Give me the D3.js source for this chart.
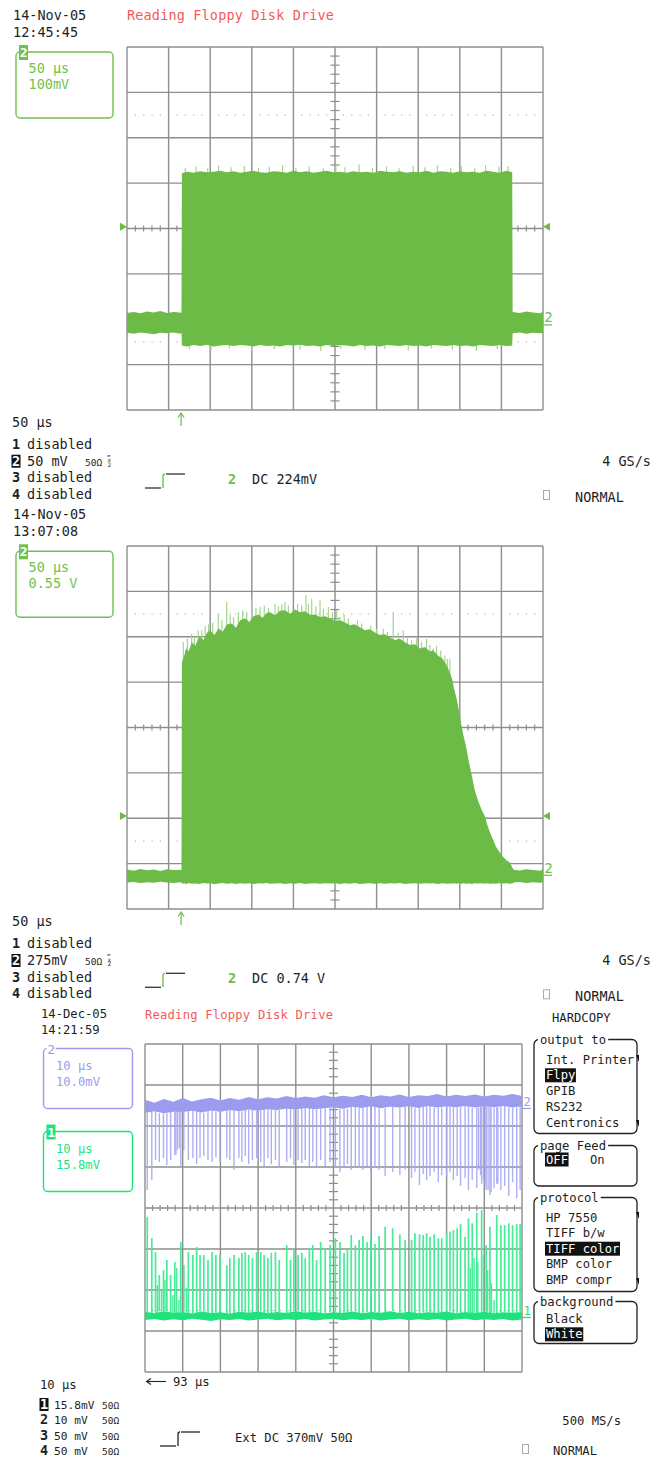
<!DOCTYPE html>
<html><head><meta charset="utf-8">
<script src="https://cdn.jsdelivr.net/npm/d3@7"></script>
<style>
html,body{margin:0;padding:0;background:#fff;}
svg{display:block;}
text{font-family:"DejaVu Sans Mono","Liberation Mono",monospace;font-size:13.5px;fill:#1e1e1e;}
</style></head><body>
<svg id="c" width="652" height="1458"></svg>
<script>
// ---------------- DATA ----------------
// Panel 1: 50 us/div, 100 mV/div (zoom). [time us, upper mV, lower mV]
const p1Trace = [[0,-186,-230],[8,-184,-232],[16,-187,-229],[24,-183,-231],[32,-185,-233],[40,-182,-230],[48,-186,-231],[56,-184,-229],[64,-185,-232],[65.5,-186,-230],
[66,122,-258],[72,125,-260],[80,123,-257],[88,126,-259],[96,124,-256],[104,125,-260],[112,127,-258],[120,124,-257],[128,126,-259],[136,123,-257],[144,125,-258],[152,127,-260],[160,124,-257],[168,123,-259],[176,126,-258],[184,125,-260],[192,123,-257],[200,127,-258],[208,124,-256],[216,126,-259],[224,123,-258],[232,125,-260],[240,127,-257],[248,124,-259],[256,125,-257],[264,123,-258],[272,126,-260],[280,124,-257],[288,125,-259],[296,123,-258],[304,127,-260],[312,125,-257],[320,124,-258],[328,126,-259],[336,123,-257],[344,125,-259],[352,124,-258],[360,127,-260],[368,123,-257],[376,126,-258],[384,125,-259],[392,123,-257],[400,126,-259],[408,124,-258],[416,125,-260],[424,123,-257],[432,127,-258],[440,125,-259],[448,123,-257],[456,127,-259],[463,124,-258],
[463.5,-184,-231],[472,-186,-229],[480,-183,-232],[488,-185,-230],[496,-187,-231],[500,-184,-230]];
const p1Spikes = [[70,134],[83,137],[97,133],[110,139],[125,135],[141,138],[158,133],[171,136],[187,140],[203,134],[219,137],[236,133],[251,139],[262,135],[279,141],[295,134],[312,137],[327,133],[344,138],[358,135],[373,139],[389,134],[402,137],[418,133],[431,140],[447,136],[458,138]];
const p1Dips = [[75,-266],[101,-268],[123,-265],[150,-269],[177,-266],[208,-267],[233,-270],[257,-265],[286,-268],[310,-266],[338,-269],[366,-265],[391,-267],[420,-270],[445,-266]];
const p1Trig = {level: 4, time: 65};
const p1Ground = -196;

// Panel 2: 50 us/div, 550 mV/div
const p2Trace = [[0,-1720,-1880],[8,-1735,-1872],[16,-1715,-1885],[24,-1730,-1876],[32,-1722,-1882],[40,-1740,-1870],[48,-1718,-1879],[56,-1728,-1884],[64,-1724,-1875],[65.5,-1730,-1880],
[66,789,-1895],[69,880,-1888],[71,960,-1900],[74,920,-1886],[78,1032,-1893],[82,990,-1890],[87,1104,-1897],[92,1060,-1886],[96,1150,-1892],[100,1177,-1888],[105,1120,-1899],[110,1201,-1890],[115,1160,-1885],[120,1250,-1894],[126,1262,-1889],[131,1210,-1896],[136,1300,-1887],[142,1323,-1893],[147,1280,-1889],[152,1350,-1898],[158,1371,-1888],[163,1330,-1892],[168,1390,-1886],[172,1396,-1895],[178,1360,-1890],[184,1415,-1887],[190,1420,-1896],[196,1380,-1889],[202,1430,-1893],[208,1396,-1886],[214,1410,-1897],[220,1365,-1890],[226,1371,-1888],[232,1340,-1895],[238,1350,-1887],[244,1323,-1892],[250,1290,-1889],[256,1300,-1896],[262,1274,-1888],[268,1240,-1893],[274,1250,-1886],[280,1214,-1898],[286,1180,-1890],[292,1190,-1887],[298,1153,-1894],[304,1120,-1889],[310,1130,-1895],[316,1092,-1888],[322,1060,-1892],[328,1075,-1886],[334,1032,-1897],[340,1000,-1890],[346,1010,-1888],[352,959,-1894],[358,975,-1887],[364,920,-1892],[368,935,-1889],[374,870,-1896],[379,837,-1888],[384,760,-1893],[388,667,-1890],[391,580,-1895],[393,473,-1887],[396,360,-1893],[398,255,-1889],[401.4,61,-1895],[404,-80,-1888],[407.5,-231,-1893],[411,-420,-1890],[414.7,-595,-1896],[418,-760,-1887],[421.9,-886,-1892],[426,-990,-1889],[430.3,-1080,-1894],[433,-1180,-1888],[436.3,-1274,-1893],[440,-1360,-1890],[443.5,-1444,-1895],[447,-1500,-1887],[451.9,-1566,-1892],[456,-1610,-1889],[460.3,-1638,-1894],[463.9,-1711,-1888],
[465,-1725,-1878],[472,-1732,-1872],[480,-1718,-1884],[488,-1728,-1876],[496,-1735,-1881],[500,-1722,-1877]];
// light spikes above the envelope: [time us, peak mV]
const p2Spikes = [[67.7,1035],[72.5,1080],[77.7,1137],[81,1100],[85.7,1177],[90,1180],[94,1230],[98,1250],[103,1270],[109.7,1380],[114,1300],[119.8,1521],[124,1380],[128,1340],[133.8,1399],[139,1420],[144,1400],[149.9,1562],[155,1450],[159.9,1460],[165,1480],[170,1450],[177.9,1501],[182,1470],[186,1490],[189.9,1521],[194,1480],[199.9,1420],[205,1500],[210,1480],[215.1,1602],[218,1500],[222,1562],[227,1470],[232,1541],[236,1440],[242,1460],[247,1400],[252,1420],[256,1338],[261,1370],[266,1320],[272,1258],[277,1300],[282,1260],[288,1177],[293,1240],[300,1200],[308,1197],[313,1160],[320,1399],[326,1150],[332,1177],[337,1100],[342,1056],[348,1080],[354,1040],[360,1076],[364,1000],[368,955],[372,990],[377,930],[382,874],[385,830],[388,834]];
const p2Trig = {level: -1072, time: 65};
const p2Ground = -1700;

// Panel 3: 10 us/div; ch2 10 mV/div, ch1 15.8 mV/div. Pulse times (us)
const p3PulseT = [0.6,1.8,2.8,3.8,4.9,5.8,6.8,7.9,9.5,10.3,11.5,12.7,13.7,14.6,15.6,16.7,17.8,18.8,19.9,21.7,22.5,23.6,24.9,25.7,26.6,27.5,28.5,29.6,30.7,31.6,32.6,33.5,34.6,35.6,37.6,38.6,39.5,40.6,41.6,42.5,43.6,44.5,45.5,46.6,47.8,49.1,50.5,51.7,52.8,53.7,54.7,55.8,56.8,57.8,58.9,59.9,61.0,62.1,63.7,65.7,67.6,69.0,70.7,71.6,72.8,73.8,74.7,75.6,76.7,77.8,78.7,80.0,80.9,81.8,82.8,83.7,84.9,85.8,86.8,88.0,89.3,90.5,91.5,93.3,94.4,95.4,96.5,97.5,98.6,99.5];
const p3Ch1Peak = [-3.4,-11.6,-17.0,-25.8,-23.9,-20.0,-25.8,-20.8,-13.1,-22.0,-17.0,-18.1,-15.0,-18.1,-18.1,-20.0,-17.0,-18.1,-18.1,-22.0,-19.3,-18.1,-19.3,-17.3,-17.0,-18.1,-19.3,-17.0,-17.0,-18.1,-19.3,-17.3,-17.0,-20.0,-14.3,-20.0,-16.2,-18.1,-17.3,-19.3,-15.4,-14.3,-20.0,-13.1,-15.4,-14.3,-11.6,-13.1,-17.3,-16.2,-10.4,-14.3,-12.3,-10.8,-13.1,-11.6,-13.9,-10.8,-7.2,-7.8,-10.1,-12.3,-12.3,-9.7,-10.1,-10.4,-9.7,-11.1,-10.1,-11.7,-11.7,-9.7,-9.1,-8.5,-7.8,-6.2,-11.1,-4.0,-5.9,-1.8,-0.8,-14.3,-7.2,-2.7,-6.6,-6.6,-5.9,-6.6,-6.2,-6.2];
const p3Ch2Trough = [4.4,6.8,11.7,11.2,12.2,10.5,11.7,12.9,10.2,14.1,11.7,12.2,10.7,12.2,12.7,11.7,11.2,12.4,11.2,12.2,11.7,9.3,12.2,11.2,12.7,10.7,11.7,12.2,11.2,10.2,12.2,10.7,11.7,10.2,11.2,12.2,10.5,11.7,11.0,11.7,10.2,11.2,9.8,11.7,10.2,11.2,9.8,8.8,10.2,10.7,9.3,9.8,10.2,9.3,10.2,8.8,9.8,9.3,7.8,8.8,8.0,9.3,7.3,8.8,5.6,8.3,6.8,7.8,8.8,6.3,8.0,7.3,8.8,6.8,7.8,5.4,7.3,4.4,6.8,4.9,5.9,4.4,3.2,5.9,4.4,5.4,2.9,6.3,2.4,4.4];
const p3Ch1Minor = [[3.3,-29.7],[4.4,-31.6],[5.3,-27.7],[7.4,-33.5],[8.4,-23.1],[9.0,-35.5],[11.0,-30.8],[86.3,-23.1],[87.3,-19.3],[88.3,-20.8],[89.8,-18.1],[90.9,-23.9],[91.9,-28.9],[92.6,-35.5]];
const p3Ch2Minor = [[8.2,12.9],[8.6,14.1],[9.1,14.6],[88.5,9.3],[89.0,8.0],[89.8,6.8],[90.2,5.4],[91.0,4.4],[91.8,3.9],[92.6,4.9],[93.6,5.9]];
const p3Ch2Band = [[0,26.4,23.2],[2.5,25.7,23.6],[5,26.6,23.1],[7.5,25.9,23.5],[10,26.8,23.4],[12.5,26.0,23.7],[15,26.5,23.3],[17.5,26.9,23.8],[20,26.2,23.5],[22.5,26.8,23.9],[25,26.4,23.6],[27.5,27.1,24.0],[30,26.5,23.7],[32.5,27.0,24.1],[35,26.7,23.9],[37.5,27.3,24.2],[40,26.8,24.0],[42.5,27.2,24.4],[45,26.9,24.1],[47.5,27.5,24.3],[50,27.0,24.6],[52.5,27.4,24.2],[55,27.1,24.7],[57.5,27.6,24.4],[60,27.0,24.8],[62.5,27.5,24.3],[65,27.2,24.7],[67.5,27.7,24.5],[70,27.1,24.8],[72.5,27.5,24.4],[75,27.3,24.9],[77.5,27.8,24.5],[80,27.2,24.8],[82.5,27.6,24.6],[85,27.3,24.9],[87.5,27.7,24.5],[90,27.2,24.8],[92.5,27.6,24.6],[95,27.4,24.9],[97.5,27.8,24.5],[100,27.3,24.8]];
const p3Ch1Band = [[0,-40.0,-43.2],[2.5,-40.6,-42.8],[5,-39.8,-43.4],[7.5,-40.4,-42.9],[10,-40.1,-43.3],[12.5,-40.7,-42.7],[15,-39.9,-43.1],[17.5,-40.5,-43.5],[20,-40.2,-42.9],[22.5,-40.8,-43.2],[25,-40.0,-42.8],[27.5,-40.4,-43.4],[30,-39.9,-43.0],[32.5,-40.6,-42.7],[35,-40.1,-43.3],[37.5,-40.5,-42.9],[40,-39.8,-43.2],[42.5,-40.4,-42.8],[45,-40.0,-43.4],[47.5,-40.7,-43.0],[50,-40.2,-42.7],[52.5,-40.5,-43.3],[55,-39.9,-42.9],[57.5,-40.6,-43.2],[60,-40.1,-42.8],[62.5,-40.4,-43.4],[65,-39.8,-43.0],[67.5,-40.5,-42.7],[70,-40.0,-43.3],[72.5,-40.6,-42.9],[75,-40.2,-43.2],[77.5,-40.4,-42.8],[80,-39.9,-43.4],[82.5,-40.7,-43.0],[85,-40.1,-42.7],[87.5,-40.5,-43.3],[90,-40.0,-42.9],[92.5,-40.6,-43.2],[95,-40.2,-42.8],[97.5,-40.4,-43.4],[100,-40.1,-43.0]];
const p3Ch2Ground = 26.1, p3Ch1Ground = -39.3;

// Texts
const p1Head = ["14-Nov-05","12:45:45"];
const p2Head = ["14-Nov-05","13:07:08"];
const p3Head = ["14-Dec-05","14:21:59"];
const titleText = "Reading Floppy Disk Drive";
const p1Box = ["50 µs","100mV"];
const p2Box = ["50 µs","0.55 V"];
const p3Box2 = ["10 µs","10.0mV"];
const p3Box1 = ["10 µs","15.8mV"];
const p1Chan = [["1","disabled"],["2","50 mV"],["3","disabled"],["4","disabled"]];
const p2Chan = [["1","disabled"],["2","275mV"],["3","disabled"],["4","disabled"]];
const p3Chan = [["1","15.8mV"],["2","10 mV"],["3","50 mV"],["4","50 mV"]];
const p1Trigger = "DC 224mV", p2Trigger = "DC 0.74 V", p3Trigger = "Ext  DC 370mV 50Ω";
const rates = ["4 GS/s","4 GS/s","500 MS/s"];
const menuOutput = ["Int. Printer","Flpy","GPIB","RS232","Centronics"];
const menuProtocol = ["HP 7550","TIFF b/w","TIFF color","BMP color","BMP compr"];
const menuBackground = ["Black","White"];

// ---------------- DRAW ----------------
const svg = d3.select("#c");
const G1 = "#6cbb47", G1L = "#a3d68c", GTXT = "#72c04f";
const PUR = "#9c9cef", PURL = "rgba(165,165,244,0.9)";
const MINT = "#1fe27d", MINTL = "#46ec97";
const GRID = "#8e8e8e";
const S3 = 12.2; // panel 3 font size

function T(x, y, s, o = {}) {
  const t = svg.append("text").attr("x", x).attr("y", y).text(s);
  if (o.fill) t.style("fill", o.fill);
  if (o.size) t.style("font-size", o.size + "px");
  if (o.anchor) t.attr("text-anchor", o.anchor);
  if (o.weight) t.style("font-weight", o.weight);
  if (o.len) t.attr("textLength", o.len).attr("lengthAdjust", "spacing");
  return t;
}

function grid(x, y, nx, ny) {
  const g = svg.append("g");
  const [x0, x1] = x.range(), [y0, y1] = y.range(); // y0 bottom
  const dx = (x1 - x0) / nx, dy = (y0 - y1) / ny;
  const cx = x0 + dx * nx / 2, cy = y1 + dy * ny / 2;
  [cy - 2.5 * dy, cy + 2.5 * dy].forEach(yy => {
    for (let i = 0; i < nx * 5; i++) {
      if (i % 5 === 0) continue;
      g.append("rect").attr("x", x0 + i * dx / 5 - 0.5).attr("y", yy - 0.5).attr("width", 1.2).attr("height", 1.2).attr("fill", "#b4b4b4");
    }
  });
  for (let i = 0; i <= nx; i++) g.append("line").attr("x1", x0 + i * dx).attr("x2", x0 + i * dx).attr("y1", y1).attr("y2", y0).attr("stroke", GRID).attr("stroke-width", 1.4);
  for (let j = 0; j <= ny; j++) g.append("line").attr("x1", x0).attr("x2", x1).attr("y1", y1 + j * dy).attr("y2", y1 + j * dy).attr("stroke", GRID).attr("stroke-width", 1.4);
  for (let i = 1; i < nx * 5; i++) {
    if (i % 5 === 0) continue;
    g.append("line").attr("x1", x0 + i * dx / 5).attr("x2", x0 + i * dx / 5).attr("y1", cy - 3).attr("y2", cy + 3).attr("stroke", GRID).attr("stroke-width", 1.2);
  }
  for (let j = 1; j < ny * 5; j++) {
    if (j % 5 === 0) continue;
    g.append("line").attr("x1", cx - 4.5).attr("x2", cx + 4.5).attr("y1", y1 + j * dy / 5).attr("y2", y1 + j * dy / 5).attr("stroke", GRID).attr("stroke-width", 1.2);
  }
}

function trigArrows(x, y, level, time, col) {
  const yy = y(level), [x0, x1] = x.range(), [yb] = y.range();
  svg.append("path").attr("d", `M${x0 - 7},${yy - 4}L${x0},${yy}L${x0 - 7},${yy + 4}Z`).attr("fill", col);
  svg.append("path").attr("d", `M${x1 + 7},${yy - 4}L${x1},${yy}L${x1 + 7},${yy + 4}Z`).attr("fill", col);
  const tx = x(time);
  svg.append("line").attr("x1", tx).attr("x2", tx).attr("y1", yb + 4).attr("y2", yb + 16).attr("stroke", col).attr("stroke-width", 1.2);
  svg.append("path").attr("d", `M${tx - 3},${yb + 7.5}L${tx},${yb + 3}L${tx + 3},${yb + 7.5}`).attr("fill", "none").attr("stroke", col).attr("stroke-width", 1.2);
}

function groundMark(x, y, v, label, col, size) {
  const x1 = x.range()[1], yy = y(v);
  T(x1 + 1.5, yy + 5, label, {fill: col, size: size || 13.5});
  svg.append("line").attr("x1", x1).attr("x2", x1 + 9).attr("y1", yy + 7.5).attr("y2", yy + 7.5).attr("stroke", col).attr("stroke-width", 1.2);
}

function chanBox(x, y, w, h, badge, col, lines, filledBadge, size) {
  svg.append("rect").attr("x", x).attr("y", y).attr("width", w).attr("height", h).attr("rx", 4).attr("fill", "none").attr("stroke", col).attr("stroke-width", 1.4);
  if (filledBadge) {
    svg.append("rect").attr("x", x + 3).attr("y", y - 7).attr("width", 9).attr("height", 15).attr("fill", col);
    T(x + 3.8, y + 5, badge, {fill: "#fff", size: 13, weight: "bold"});
  } else {
    svg.append("rect").attr("x", x + 3).attr("y", y - 3).attr("width", 9).attr("height", 6).attr("fill", "#fff");
    T(x + 3.8, y + 5, badge, {fill: col, size: 13});
  }
  lines.forEach((s, i) => T(x + 12.5, y + 21 + i * 16, s, {fill: col, size: size}));
}

function chanList(x, y0, rows, inv, step, ohm, ohmX, bwl, size, gap) {
  rows.forEach((r, i) => {
    const yy = y0 + i * step;
    if (r[0] === inv) {
      svg.append("rect").attr("x", x - 0.5).attr("y", yy - 11).attr("width", 9).attr("height", 13).attr("fill", "#111");
      T(x, yy, r[0], {fill: "#fff", weight: "bold", size: 13.5});
    } else T(x, yy, r[0], {weight: "bold", size: 13.5});
    T(x + gap, yy, r[1], {size: size});
    if (ohm && (ohm === "all" || r[0] === inv)) T(ohmX, yy, "50Ω", {size: 9.5});
    if (bwl && r[0] === inv) {
      T(ohmX + 22, yy - 8, "≈", {size: 6}); T(ohmX + 22.5, yy - 3.5, "x", {size: 6}); T(ohmX + 22.5, yy + 1, "2", {size: 6});
    }
  });
}

function trigSym(x, y, col, dark) {
  svg.append("path").attr("d", `M${x},${y}H${x + 16}`).attr("stroke", dark).attr("stroke-width", 1.3).attr("fill", "none");
  svg.append("path").attr("d", `M${x + 18},${y}V${y - 12}Q${x + 18},${y - 14} ${x + 20},${y - 14}`).attr("stroke", col).attr("stroke-width", 1.3).attr("fill", "none");
  svg.append("path").attr("d", `M${x + 21},${y - 14}H${x + 40}`).attr("stroke", dark).attr("stroke-width", 1.3).attr("fill", "none");
}

function footer(dy, rate, trig, trigCh) {
  T(12, 427 + dy, "50 µs");
  trigSym(145, 488 + dy, G1, "#333");
  T(228, 484 + dy, trigCh, {fill: G1, weight: "bold"});
  T(252, 484 + dy, trig);
  T(651, 466 + dy, rate, {anchor: "end"});
  svg.append("rect").attr("x", 543.5).attr("y", 490.5 + dy).attr("width", 6).attr("height", 9).attr("fill", "none").attr("stroke", "#aaa").attr("stroke-width", 1);
  T(575, 502 + dy, "NORMAL");
}

function vlines(data, x, y, yFrom, yTo, col, w) {
  svg.append("g").selectAll("line").data(data).join("line")
    .attr("x1", d => x(d[0])).attr("x2", d => x(d[0]))
    .attr("y1", d => y(yFrom(d))).attr("y2", d => y(yTo(d)))
    .attr("stroke", col).attr("stroke-width", w);
}

// ---- Panel 1
const x1s = d3.scaleLinear([0, 500], [127, 543]);
const y1s = d3.scaleLinear([-400, 400], [410, 47]);
T(13, 20, p1Head[0]); T(13, 37, p1Head[1]);
T(127, 20, titleText, {fill: "#f45a5a", len: 207});
chanBox(16, 52, 97, 66, "2", GTXT, p1Box, true);
grid(x1s, y1s, 10, 8);
vlines(p1Spikes, x1s, y1s, d => 0, d => d[1], G1L, 1.2);
vlines(p1Dips, x1s, y1s, d => 0, d => d[1], G1L, 1.2);
svg.append("path").datum(p1Trace).attr("fill", G1)
  .attr("d", d3.area().x(d => x1s(d[0])).y0(d => y1s(d[2])).y1(d => y1s(d[1])));
trigArrows(x1s, y1s, p1Trig.level, p1Trig.time, G1);
groundMark(x1s, y1s, p1Ground, "2", G1);
footer(0, rates[0], p1Trigger, "2");
chanList(12, 449, p1Chan, "2", 16.7, "inv", 85, true, 13.5, 15);

// ---- Panel 2
const D2 = 499.3;
const x2s = d3.scaleLinear([0, 500], [127, 543]);
const y2s = d3.scaleLinear([-2200, 2200], [909, 546]);
T(13, 20 + D2, p2Head[0]); T(13, 37 + D2, p2Head[1]);
chanBox(16, 52 + D2, 97, 66, "2", GTXT, p2Box, true);
grid(x2s, y2s, 10, 8);
vlines(p2Spikes, x2s, y2s, d => 0, d => d[1], G1L, 1.2);
svg.append("path").datum(p2Trace).attr("fill", G1)
  .attr("d", d3.area().x(d => x2s(d[0])).y0(d => y2s(d[2])).y1(d => y2s(d[1])));
trigArrows(x2s, y2s, p2Trig.level, p2Trig.time, G1);
groundMark(x2s, y2s, p2Ground, "2", G1);
footer(D2, rates[1], p2Trigger, "2");
chanList(12, 449 + D2, p2Chan, "2", 16.7, "inv", 85, true, 13.5, 15);

// ---- Panel 3
const x3s = d3.scaleLinear([0, 100], [145, 522]);
const y3a = d3.scaleLinear([-40, 40], [1372, 1044]);      // ch2 10 mV/div
const y3b = d3.scaleLinear([-63.2, 63.2], [1372, 1044]);  // ch1 15.8 mV/div
T(41, 1018, p3Head[0], {size: S3}); T(41, 1034, p3Head[1], {size: S3});
T(145, 1019, titleText, {fill: "#f45a5a", size: S3, len: 188});
T(552, 1022, "HARDCOPY", {size: S3});
chanBox(43.5, 1048.5, 89, 60, "2", PUR, p3Box2, false, S3);
chanBox(43.5, 1131.5, 89, 60, "1", MINT, p3Box1, true, S3);
grid(x3s, y3a, 10, 8);
const ch2Top = t => { const i = d3.bisector(d => d[0]).center(p3Ch2Band, t); return p3Ch2Band[i][2]; };
const ch1Base = t => { const i = d3.bisector(d => d[0]).center(p3Ch1Band, t); return p3Ch1Band[i][1]; };
const ch2Pulses = p3PulseT.map((t, i) => [t, p3Ch2Trough[i]]);
const ch1Pulses = p3PulseT.map((t, i) => [t, p3Ch1Peak[i]]);
vlines(ch2Pulses, x3s, y3a, d => ch2Top(d[0]), d => d[1], PURL, 1.4);
vlines(p3Ch2Minor, x3s, y3a, d => ch2Top(d[0]), d => d[1], PURL, 1.3);
svg.append("path").datum(p3Ch2Band).attr("fill", PUR)
  .attr("d", d3.area().x(d => x3s(d[0])).y0(d => y3a(d[2])).y1(d => y3a(d[1])));
vlines(ch1Pulses, x3s, y3b, d => ch1Base(d[0]), d => d[1], MINTL, 1.7);
vlines(p3Ch1Minor, x3s, y3b, d => ch1Base(d[0]), d => d[1], MINTL, 1.4);
svg.append("path").datum(p3Ch1Band).attr("fill", MINT)
  .attr("d", d3.area().x(d => x3s(d[0])).y0(d => y3b(d[2])).y1(d => y3b(d[1])));
groundMark(x3s, y3a, p3Ch2Ground, "2", PUR, S3);
groundMark(x3s, y3b, p3Ch1Ground, "1", MINT, S3);

// footer panel 3
svg.append("line").attr("x1", 147).attr("x2", 166).attr("y1", 1381.5).attr("y2", 1381.5).attr("stroke", "#222").attr("stroke-width", 1.1);
svg.append("path").attr("d", "M151,1378.5L146.5,1381.5L151,1384.5").attr("fill", "none").attr("stroke", "#222").attr("stroke-width", 1.1);
T(173, 1386, "93 µs", {size: S3});
T(40, 1389, "10 µs", {size: S3});
chanList(40, 1409, p3Chan, "1", 15.4, "all", 102, false, 11.2, 14);
trigSym(160, 1446, "#222", "#222");
T(235, 1442, p3Trigger, {size: S3});
T(621, 1425, rates[2], {anchor: "end", size: S3});
svg.append("rect").attr("x", 522.5).attr("y", 1444.5).attr("width", 6).attr("height", 9).attr("fill", "none").attr("stroke", "#aaa").attr("stroke-width", 1);
T(553, 1454.5, "NORMAL", {size: S3});

// ---- Menu
const SM = 12.2;
function menuBox(y0, y1, label, items, invIdx, step, firstY, arrows) {
  svg.append("rect").attr("x", 534).attr("y", y0).attr("width", 103).attr("height", y1 - y0).attr("rx", 5).attr("fill", "none").attr("stroke", "#222").attr("stroke-width", 1.3);
  const lw = label.length * 7.35 + 4;
  svg.append("rect").attr("x", 538).attr("y", y0 - 3).attr("width", lw).attr("height", 6).attr("fill", "#fff");
  T(540, y0 + 4, label, {size: SM});
  items.forEach((s, i) => {
    const yy = firstY + i * step;
    let xx = 546;
    if (Array.isArray(s)) { xx = s[1]; s = s[0]; }
    if (invIdx.includes(i)) {
      svg.append("rect").attr("x", xx - 1).attr("y", yy - 11).attr("width", s.length * 7.35 + 1.5).attr("height", 14).attr("fill", "#111");
      T(xx, yy, s, {fill: "#fff", size: SM});
    } else T(xx, yy, s, {size: SM});
  });
  if (arrows) arrows.forEach(a => {
    svg.append("path").attr("d", `M636,${a - 7}L639,${a - 7}L639,${a}Z`).attr("fill", "#111");
  });
}
menuBox(1039.5, 1133.5, "output to", menuOutput, [1], 15.8, 1063.5, [1062, 1127]);
menuBox(1145.5, 1186, "page Feed", [["OFF", 546], ["On", 590]], [0], 0, 1163.5, null);
menuBox(1197.5, 1291.5, "protocol", menuProtocol, [2], 15.6, 1221.5, [1219, 1285]);
menuBox(1301.5, 1343.5, "background", menuBackground, [1], 15.8, 1322.5, null);
</script></body></html>
